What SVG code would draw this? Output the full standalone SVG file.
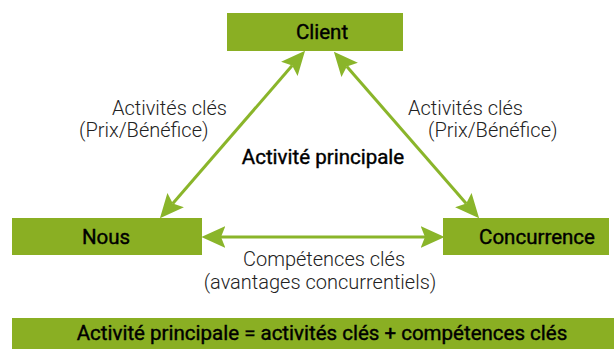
<svg xmlns="http://www.w3.org/2000/svg" width="614" height="349" viewBox="0 0 614 349">
<style>
.box{fill:#8aaf23}
.lbl{font-family:Roboto,"Liberation Sans",sans-serif;font-size:20.5px;font-weight:400;fill:#000;stroke:#000;stroke-width:0.4;text-anchor:middle}
.thin{font-family:Roboto,"Liberation Sans",sans-serif;font-size:20px;font-weight:300;fill:#222}
.conn{stroke:#8ab52a;stroke-width:3;fill:none;marker-start:url(#ah);marker-end:url(#ah)}
</style>
<defs>
<marker id="ah" markerUnits="userSpaceOnUse" markerWidth="24" markerHeight="22" viewBox="0 0 22 20" refX="4" refY="10" orient="auto-start-reverse">
<path d="M0,0 L22,10 L0,20 L4,10 Z" fill="#8ab52a"/>
</marker>
</defs>
<rect width="614" height="349" fill="#fff"/>
<g id="connectors">
<line class="conn" x1="172.8" y1="203.4" x2="292.2" y2="65.6"/>
<line class="conn" x1="346.8" y1="66.6" x2="466.2" y2="203.4"/>
<line class="conn" x1="221" y1="237" x2="425" y2="237"/>
</g>
<g id="client"><rect class="box" x="227" y="13" width="176" height="38"/><text class="lbl" x="322" y="39">Client</text></g>
<g id="nous"><rect class="box" x="12" y="218" width="190" height="37"/><text class="lbl" x="106" y="244">Nous</text></g>
<g id="concurrence"><rect class="box" x="443" y="218" width="166" height="37"/><text class="lbl" x="537" y="244">Concurrence</text></g>
<g id="label-left"><text class="thin" x="112" y="115">Activités clés</text><text class="thin" x="79" y="137">(Prix/Bénéfice)</text></g>
<g id="label-right"><text class="thin" x="408" y="115">Activités clés</text><text class="thin" x="428" y="137">(Prix/Bénéfice)</text></g>
<g id="center"><text class="lbl" x="323" y="164">Activité principale</text></g>
<g id="label-bottom"><text class="thin" x="324" y="266" text-anchor="middle">Compétences clés</text><text class="thin" x="320" y="289" text-anchor="middle">(avantages concurrentiels)</text></g>
<g id="summary"><rect class="box" x="12" y="318" width="602" height="31"/><text class="lbl" x="322" y="340">Activité principale = activités clés + compétences clés</text></g>
</svg>
